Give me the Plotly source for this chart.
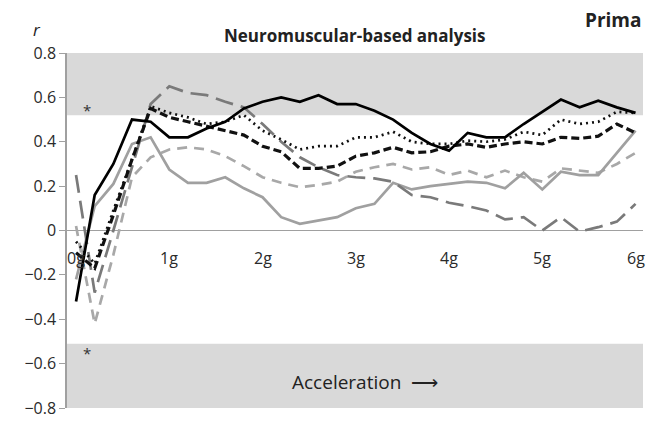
import plotly.graph_objects as go

# ---------------- data ----------------
accel_g = [round(0.2 * i, 1) for i in range(31)]  # 0g .. 6g in 0.2g steps

black_solid = [-0.32, 0.16, 0.30, 0.50, 0.49, 0.42, 0.42, 0.46, 0.49, 0.55,
               0.58, 0.60, 0.58, 0.61, 0.57, 0.57, 0.54, 0.50, 0.44, 0.39,
               0.36, 0.44, 0.42, 0.42, 0.48, 0.535, 0.59, 0.555, 0.585, 0.555, 0.53]
black_dotted = [-0.05, -0.15, 0.09, 0.32, 0.56, 0.53, 0.51, 0.48, 0.49, 0.52,
                0.45, 0.41, 0.365, 0.38, 0.38, 0.42, 0.42, 0.445, 0.40, 0.39,
                0.39, 0.405, 0.40, 0.41, 0.445, 0.43, 0.50, 0.48, 0.49, 0.535, 0.53]
black_dashed = [-0.10, -0.17, 0.07, 0.32, 0.55, 0.51, 0.49, 0.47, 0.45, 0.43,
                0.38, 0.355, 0.28, 0.28, 0.29, 0.335, 0.35, 0.375, 0.35, 0.355,
                0.38, 0.39, 0.375, 0.39, 0.40, 0.39, 0.42, 0.415, 0.425, 0.48, 0.44]
gray_longdash = [0.25, -0.28, 0.00, 0.29, 0.57, 0.65, 0.62, 0.61, 0.58, 0.555,
                 0.48, 0.40, 0.33, 0.285, 0.25, 0.24, 0.235, 0.22, 0.16, 0.15,
                 0.125, 0.11, 0.09, 0.05, 0.06, 0.00, 0.06, -0.005, 0.015, 0.04, 0.12]
gray_solid = [-0.22, 0.11, 0.21, 0.39, 0.42, 0.275, 0.215, 0.215, 0.24, 0.19,
              0.15, 0.06, 0.03, 0.045, 0.06, 0.10, 0.12, 0.215, 0.185, 0.20,
              0.21, 0.22, 0.215, 0.19, 0.26, 0.185, 0.265, 0.25, 0.25, 0.35, 0.45]
light_dashed = [0.02, -0.42, -0.11, 0.24, 0.33, 0.365, 0.375, 0.365, 0.335, 0.29,
                0.24, 0.215, 0.195, 0.205, 0.22, 0.265, 0.285, 0.30, 0.275, 0.285,
                0.25, 0.27, 0.24, 0.27, 0.24, 0.22, 0.28, 0.27, 0.26, 0.30, 0.35]

x_tick_vals = [0, 1, 2, 3, 4, 5, 6]
x_tick_text = ["0g", "1g", "2g", "3g", "4g", "5g", "6g"]
y_tick_vals = [0.8, 0.6, 0.4, 0.2, 0, -0.2, -0.4, -0.6, -0.8]
y_tick_text = ["0.8", "0.6", "0.4", "0.2", "0", "\u22120.2", "\u22120.4", "\u22120.6", "\u22120.8"]
sig_threshold = 0.52

FONT = "Open Sans"

fig = go.Figure()

series = [
    (light_dashed, "#a8a8a8", 2.7, "10px,7px"),
    (gray_solid, "#a0a0a0", 2.7, "solid"),
    (gray_longdash, "#7a7a7a", 2.7, "18px,8px"),
    (black_dashed, "#111111", 3.2, "8px,4px"),
    (black_dotted, "#111111", 2.7, "2px,4px"),
    (black_solid, "#000000", 2.7, "solid"),
]
for vals, color, width, dash in series:
    fig.add_trace(go.Scatter(x=accel_g, y=vals, mode="lines",
                             line=dict(color=color, width=width, dash=dash),
                             showlegend=False, hoverinfo="skip"))

# shaded significance bands
fig.add_shape(type="rect", xref="paper", yref="y", x0=0, x1=1, y0=sig_threshold, y1=0.8,
              fillcolor="#d9d9d9", line=dict(width=0), layer="below")
fig.add_shape(type="rect", xref="paper", yref="y", x0=0, x1=1, y0=-0.8, y1=-0.51,
              fillcolor="#d9d9d9", line=dict(width=0), layer="below")

# x tick labels placed next to zero line
for v, t in zip(x_tick_vals, x_tick_text):
    fig.add_annotation(x=v, y=0, text=t, showarrow=False, yshift=-27,
                       font=dict(family=FONT, size=16, color="#2a2a2a"))

fig.add_annotation(x=0.12, y=0.545, text="*", showarrow=False,
                   font=dict(family=FONT, size=15, color="#333333"))
fig.add_annotation(x=0.12, y=-0.55, text="*", showarrow=False,
                   font=dict(family=FONT, size=15, color="#333333"))

fig.add_annotation(x=3.1, y=-0.685, text="Acceleration&nbsp;&nbsp;\u27f6", showarrow=False,
                   font=dict(family=FONT, size=19, color="#222222"))

fig.add_annotation(xref="paper", yref="paper", x=-0.052, y=1.066, xanchor="center",
                   yanchor="middle", text="<i>r</i>",
                   showarrow=False, font=dict(family=FONT, size=17, color="#222222"))
fig.add_annotation(xref="paper", yref="paper", x=0.5, y=1.048, xanchor="center",
                   yanchor="middle", text="<b>Neuromuscular-based analysis</b>", showarrow=False,
                   font=dict(family=FONT, size=17, color="#222222"))
fig.add_annotation(xref="paper", yref="paper", x=0.896, y=1.093, xanchor="left",
                   yanchor="middle", text="<b>Prima</b>", showarrow=False,
                   font=dict(family=FONT, size=19, color="#222222"))

fig.update_xaxes(range=[-0.097, 6.08], showticklabels=False, showgrid=False,
                 zeroline=False, showline=False, ticks="")
fig.update_yaxes(range=[-0.8, 0.8], tickvals=y_tick_vals, ticktext=y_tick_text,
                 showgrid=False, zeroline=True, zerolinecolor="#a0a0a0", zerolinewidth=1.2,
                 showline=True, linecolor="#a0a0a0", linewidth=1.5,
                 ticks="outside", ticklen=6, tickcolor="#a0a0a0",
                 tickfont=dict(family=FONT, size=16, color="#2a2a2a"))

fig.update_layout(width=648, height=423,
                  margin=dict(l=67, r=5, t=53, b=15),
                  paper_bgcolor="white", plot_bgcolor="white")

fig.write_html("out.html")
